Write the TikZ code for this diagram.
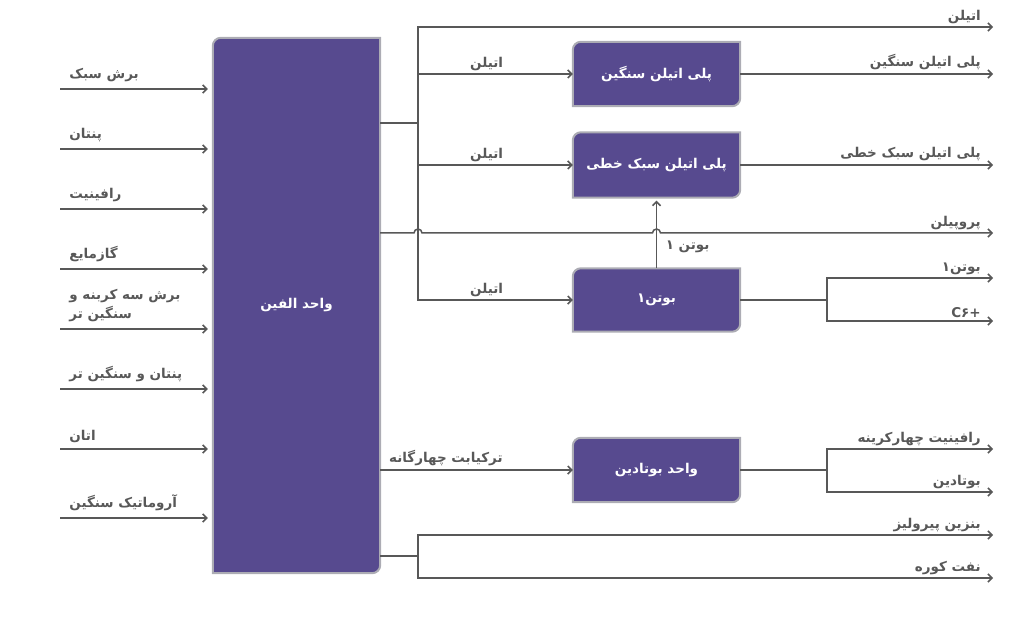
\documentclass[tikz,border=0pt]{standalone}
\usepackage{fontspec}
\usetikzlibrary{arrows.meta,backgrounds}
\newfontfamily\persianfont[Script=Arabic]{DejaVu Sans}
\TeXXeTstate=1
\definecolor{unitfill}{RGB}{87,74,143}
\definecolor{unitrim}{RGB}{172,172,180}
\definecolor{flowgray}{RGB}{88,88,88}
\newcommand\fa[1]{\beginR#1\endR}

\begin{document}
\begin{tikzpicture}[x=1pt,y=-1pt,>={Straight Barb[length=4pt,width=8pt]},
   font=\persianfont\bfseries\fontsize{13.5}{19}\selectfont,
   flow/.style={draw=flowgray,line width=1.5pt},
   unit/.style={text=white,inner sep=0pt,minimum width=167pt},
   tag/.style={text=flowgray,inner sep=2.5pt,align=left}]
   \useasboundingbox (0,0) rectangle (1024,620);
% Units
   \node [unit,minimum height=535pt] (olefin)    at (296.5,305.5) {\fa{واحد الفین}};
   \node [unit,minimum height=64pt]  (hdpe)      at (656.5,74)    {\fa{پلی اتیلن سنگین}};
   \node [unit,minimum height=65pt]  (lldpe)     at (656.5,165)   {\fa{پلی اتیلن سبک خطی}};
   \node [unit,minimum height=63pt]  (butene)    at (656.5,300)   {\fa{بوتن۱}};
   \node [unit,minimum height=64pt]  (butadiene) at (656.5,470)   {\fa{واحد بوتادین}};
% Frames (drawn behind the texts)
   \begin{scope}[on background layer]
   \foreach \u in {olefin,hdpe,lldpe,butene,butadiene}
      \draw [fill=unitfill,draw=unitrim,line width=2pt]
         (\u.south west) -- ([yshift=-8pt]\u.north west) arc[start angle=180,end angle=90,radius=8pt]
         -- (\u.north east) -- ([yshift=8pt]\u.south east) arc[start angle=0,end angle=-90,radius=8pt]
         -- cycle;
   \end{scope}
% Feeds
   \foreach \y/\txt [count=\i] in {89/{\fa{برش سبک}},149/{\fa{پنتان}},209/{\fa{رافینیت}},
         269/{\fa{گازمایع}},329/{\fa{برش سه کربنه و}\\\fa{سنگین تر}},389/{\fa{پنتان و سنگین تر}},
         449/{\fa{اتان}},518/{\fa{آروماتیک سنگین}}} {
      \coordinate (in\i) at (60,\y);
      \draw [flow,->,shorten >=5pt] (in\i) -- (in\i -| olefin.west)
         node [tag,pos=.04,anchor=south west,yshift=3.5pt] {\txt};
   }
% Product ends
   \foreach \n/\y in {eth/27,hdpe/74,lldpe/165,prop/233,but/278,csix/321,raff/449,bd/492,pyro/535,fuel/578}
      \coordinate (out-\n) at (993,\y);
   \coordinate (eth)       at (418,123);
   \coordinate (heavy)     at (418,556);
   \coordinate (butsplit)  at (827,300);
   \coordinate (bdsplit)   at (827,470);
% Ethylene
   \draw [flow] (olefin.east |- eth) -- (eth);
   \draw [flow,<->] (out-eth) node [tag,anchor=south east,xshift=-9pt] {\fa{اتیلن}}
      -- (out-eth -| eth) -- (eth |- butene) -- (butene.west)
      node [tag,pos=.57,anchor=south east] {\fa{اتیلن}};
   \draw [flow,->] (eth |- hdpe) -- (hdpe.west) node [tag,pos=.57,anchor=south east] {\fa{اتیلن}};
   \draw [flow,->] (eth |- lldpe) -- (lldpe.west) node [tag,pos=.57,anchor=south east] {\fa{اتیلن}};
   \draw [flow,->] (hdpe.east |- out-hdpe) -- (out-hdpe)
      node [tag,anchor=south east,xshift=-9pt,yshift=1pt] {\fa{پلی اتیلن سنگین}};
   \draw [flow,->] (lldpe.east) -- (out-lldpe)
      node [tag,anchor=south east,xshift=-9pt,yshift=1pt] {\fa{پلی اتیلن سبک خطی}};
% Propylene, hopping over the crossings
   \draw [flow,->] (olefin.east |- out-prop)
      -- ([xshift=-4pt]out-prop -| eth) arc[start angle=180,end angle=0,radius=4pt]
      -- ([xshift=-4pt]out-prop -| butene) arc[start angle=180,end angle=0,radius=4pt]
      -- (out-prop) node [tag,anchor=south east,xshift=-9pt] {\fa{پروپیلن}};
% Butene
   \draw [flow,->,shorten >=3pt] (butene.north) -- (lldpe.south)
      node [tag,pos=.3,anchor=west,xshift=6pt] {\fa{بوتن ۱}};
   \draw [flow] (butene.east) -- (butsplit);
   \draw [flow,<->] (out-but) node [tag,anchor=south east,xshift=-9pt] {\fa{بوتن۱}}
      -- (out-but -| butsplit) -- (out-csix -| butsplit) -- (out-csix)
      node [tag,anchor=south east,xshift=-9pt] {C۶+};
% Butadiene
   \draw [flow,->] (olefin.east |- butadiene) -- (butadiene.west)
      node [tag,pos=.653,anchor=south east,yshift=1pt] {\fa{ترکیابت چهارگانه}};
   \draw [flow] (butadiene.east) -- (bdsplit);
   \draw [flow,<->] (out-raff) node [tag,anchor=south east,xshift=-9pt] {\fa{رافینیت چهارکرینه}}
      -- (out-raff -| bdsplit) -- (out-bd -| bdsplit) -- (out-bd)
      node [tag,anchor=south east,xshift=-9pt] {\fa{بوتادین}};
% Heavy cuts
   \draw [flow] (olefin.east |- heavy) -- (heavy);
   \draw [flow,<->] (out-pyro) node [tag,anchor=south east,xshift=-9pt] {\fa{بنزین پیرولیز}}
      -- (out-pyro -| heavy) -- (out-fuel -| heavy) -- (out-fuel)
      node [tag,anchor=south east,xshift=-9pt] {\fa{نفت کوره}};
\end{tikzpicture}
\end{document}
